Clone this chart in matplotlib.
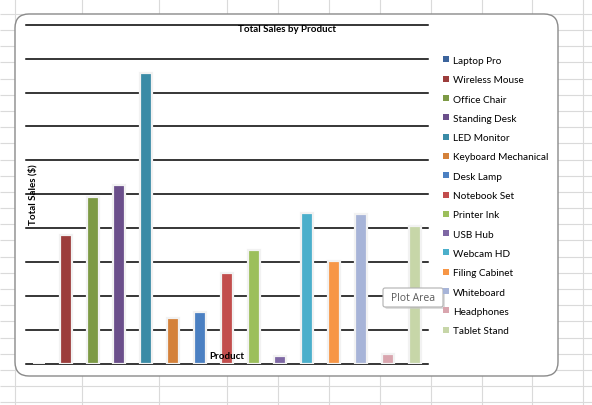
import matplotlib.pyplot as plt
from matplotlib.patches import FancyBboxPatch, Patch

# data (y axis has no labels, so values are in gridline units x 1000)
products = [
    "Laptop Pro", "Wireless Mouse", "Office Chair", "Standing Desk", "LED Monitor",
    "Keyboard Mechanical", "Desk Lamp", "Notebook Set", "Printer Ink", "USB Hub",
    "Webcam HD", "Filing Cabinet", "Whiteboard", "Headphones", "Tablet Stand",
]
sales = [0, 3810, 4930, 5280, 8580, 1370, 1530, 2680, 3360, 250,
         4450, 3050, 4430, 280, 4070]
colors = [
    "#3c649c", "#9c3d3c", "#7d9a45", "#6b4f8b", "#3a8ba6",
    "#d4813a", "#4b80c2", "#c24d4c", "#9cbf5b", "#7e67a4",
    "#4bafcb", "#f79646", "#a7b4d8", "#d9a5ae", "#c7d6a8",
]

W, H = 592, 406
fig = plt.figure(figsize=(W / 100, H / 100), dpi=100)
fig.patch.set_facecolor("white")

# spreadsheet background in pixel coordinates
bg = fig.add_axes([0, 0, 1, 1])
bg.set_xlim(0, W)
bg.set_ylim(H, 0)
bg.axis("off")
col_x = [15, 82, 159, 227, 278, 329, 380, 431, 482, 532, 583]
row_y = [14.8 + 16.19 * k for k in range(-1, 25)]
bg.vlines(col_x, 0, H, color="#dadada", lw=0.8, zorder=1)
bg.hlines(row_y, 0, W, color="#dadada", lw=0.8, zorder=1)

# chart box
box = FancyBboxPatch((15, 15), 543, 362, boxstyle="round,pad=0,rounding_size=14",
                     facecolor="white", edgecolor="#8a8a8a", lw=1.0, zorder=3)
bg.add_patch(box)

# plot area
left, right, top, bottom = 25.5, 428, 25.7, 365
ax = fig.add_axes([left / W, 1 - bottom / H, (right - left) / W, (bottom - top) / H])
ax.patch.set_alpha(0)
x = range(len(products))
ax.bar(x, sales, width=0.45, color=colors, edgecolor="#f2f2f2", linewidth=1.6, zorder=3)
ax.set_xlim(-0.5, len(products) - 0.5)
ax.set_ylim(0, 10000)
ax.set_yticks(range(0, 10001, 1000))
ax.yaxis.grid(True, color="black", lw=1.1, zorder=0)
for gl in ax.get_ygridlines():
    gl.set_clip_on(False)
ax.set_axisbelow(True)
ax.tick_params(left=False, bottom=False, labelleft=False, labelbottom=False)
for s in ax.spines.values():
    s.set_visible(False)

font = "Lato"
fig.text(287 / W, 1 - 29 / H, "Total Sales by Product", ha="center", va="center",
         fontsize=7, fontweight="bold", family=font, zorder=5)
fig.text(33 / W, 1 - 195 / H, "Total Sales ($)", ha="center", va="center",
         rotation=90, fontsize=7, fontweight="bold", family=font, zorder=5)
fig.text(227 / W, 1 - 357 / H, "Product", ha="center", va="center",
         fontsize=7, fontweight="bold", family=font, zorder=5)

handles = [Patch(facecolor=c, edgecolor="none") for c in colors]
fig.legend(handles, products, loc="upper left", bbox_to_anchor=(443 / W, 1 - 57 / H),
           frameon=False, prop={"family": font, "size": 7.2}, handlelength=0.55,
           handleheight=0.55, handletextpad=0.45, labelspacing=1.03, borderpad=0,
           borderaxespad=0)

# "Plot Area" tooltip
tip = fig.add_axes([0, 0, 1, 1])
tip.set_xlim(0, W)
tip.set_ylim(H, 0)
tip.axis("off")
tip.add_patch(FancyBboxPatch((385, 291), 60, 19, boxstyle="round,pad=0,rounding_size=2",
                             facecolor="#c8c8c8", edgecolor="none", alpha=0.6))
tip.add_patch(FancyBboxPatch((383, 289), 60, 19, boxstyle="round,pad=0,rounding_size=2",
                             facecolor="white", edgecolor="#b0b0b0", lw=0.8))
tip.text(413, 298.5, "Plot Area", ha="center", va="center", fontsize=7.5,
         color="#5a5a5a", family="Open Sans")

fig.savefig("out.png", dpi=100)
